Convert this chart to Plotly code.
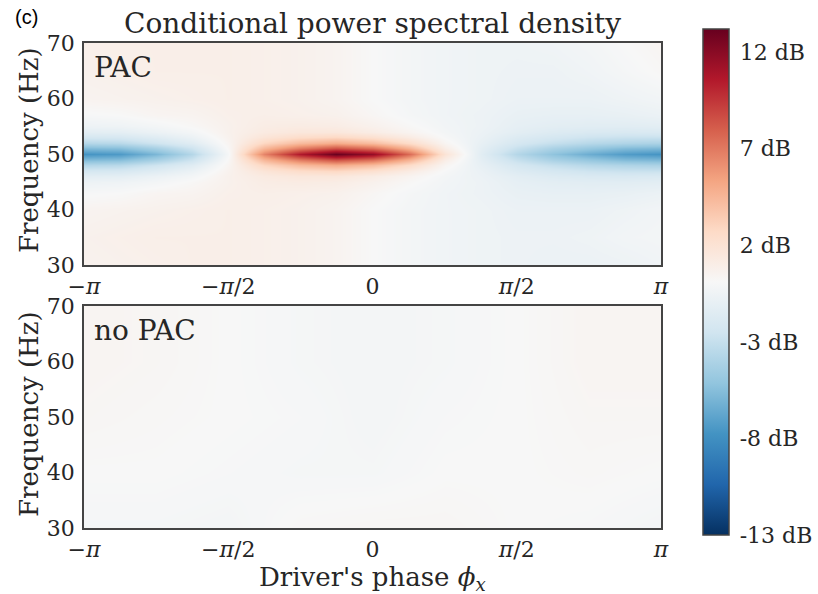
import plotly.graph_objects as go

# ---------------- data ----------------
# Top panel (PAC): driver phase columns (units of pi) and frequency rows (Hz)
pac_phase_pi = [-1, -0.875, -0.75, -0.625, -0.5, -0.375, -0.25, -0.125, 0,
                0.125, 0.25, 0.375, 0.5, 0.625, 0.75, 0.875, 1]
pac_freq = [30, 35, 40, 43, 45, 46, 47, 48, 49, 50, 51, 52, 53, 54, 55, 57, 60, 65, 70]
# conditional PSD in dB, rows follow pac_freq, columns follow pac_phase_pi
pac_db = [
    [0.5, 0.6, 0.7, 0.8, 0.8, 0.7, 0.6, 0.4, 0.0, -0.3, -0.5, -0.6, -0.7, -0.8, -0.8, -0.7, -0.5],    # 30
    [0.6, 0.7, 0.8, 0.8, 0.8, 0.7, 0.6, 0.4, 0.0, -0.3, -0.5, -0.6, -0.7, -0.7, -0.6, -0.4, -0.3],    # 35
    [0.4, 0.5, 0.6, 0.7, 0.8, 0.7, 0.6, 0.4, 0.0, -0.3, -0.5, -0.6, -0.8, -0.8, -0.8, -0.6, -0.4],    # 40
    [-0.1, 0.0, 0.3, 0.4, 0.7, 0.8, 0.7, 0.6, 0.2, -0.2, -0.5, -0.7, -1.0, -1.1, -1.1, -1.0, -0.8],   # 43
    [-0.7, -0.6, -0.3, 0.1, 0.6, 1.0, 1.1, 1.0, 0.6, 0.1, -0.4, -0.7, -1.2, -1.4, -1.5, -1.5, -1.4],  # 45
    [-1.4, -1.3, -0.8, -0.3, 0.6, 1.2, 1.5, 1.5, 1.0, 0.4, -0.3, -0.8, -1.4, -1.8, -2.0, -2.1, -2.0], # 46
    [-2.3, -2.2, -1.6, -0.8, 0.5, 1.7, 2.4, 2.7, 2.1, 1.1, -0.1, -0.9, -1.8, -2.3, -2.7, -2.9, -2.9], # 47
    [-3.8, -3.6, -2.7, -1.6, 0.3, 2.8, 4.2, 4.9, 4.1, 2.5, 0.3, -1.1, -2.3, -3.1, -3.7, -4.0, -4.2],  # 48
    [-5.7, -5.5, -4.3, -2.7, 0.1, 4.3, 6.7, 8.2, 7.1, 4.5, 0.9, -1.3, -3.0, -4.2, -5.0, -5.7, -5.9],  # 49
    [-7.8, -7.5, -6.0, -3.8, -0.2, 6.5, 10.5, 13.0, 11.5, 7.5, 1.8, -1.5, -3.8, -5.3, -6.5, -7.4, -7.8], # 50
    [-5.7, -5.5, -4.3, -2.7, 0.1, 4.3, 6.7, 8.2, 7.1, 4.5, 0.9, -1.3, -3.0, -4.2, -5.0, -5.7, -5.9],  # 51
    [-3.8, -3.6, -2.7, -1.6, 0.3, 2.8, 4.2, 4.9, 4.1, 2.5, 0.3, -1.1, -2.3, -3.1, -3.7, -4.0, -4.2],  # 52
    [-2.3, -2.2, -1.6, -0.8, 0.5, 1.7, 2.4, 2.7, 2.1, 1.1, -0.1, -0.9, -1.8, -2.3, -2.7, -2.9, -2.9], # 53
    [-1.4, -1.3, -0.8, -0.3, 0.6, 1.2, 1.5, 1.5, 1.0, 0.4, -0.3, -0.8, -1.4, -1.8, -2.0, -2.1, -2.0], # 54
    [-0.7, -0.6, -0.3, 0.1, 0.6, 1.0, 1.1, 1.0, 0.6, 0.1, -0.4, -0.7, -1.2, -1.4, -1.5, -1.5, -1.4],  # 55
    [-0.1, 0.0, 0.3, 0.4, 0.7, 0.8, 0.7, 0.6, 0.2, -0.2, -0.5, -0.7, -1.0, -1.1, -1.1, -1.0, -0.8],   # 57
    [0.4, 0.5, 0.6, 0.7, 0.8, 0.7, 0.6, 0.4, 0.0, -0.3, -0.5, -0.6, -0.8, -0.8, -0.8, -0.6, -0.4],    # 60
    [0.6, 0.7, 0.8, 0.8, 0.8, 0.7, 0.6, 0.4, 0.0, -0.3, -0.5, -0.6, -0.7, -0.7, -0.5, -0.2, 0.1],     # 65
    [0.7, 0.8, 0.8, 0.8, 0.8, 0.7, 0.6, 0.4, 0.0, -0.3, -0.5, -0.6, -0.6, -0.5, -0.3, 0.0, 0.3],      # 70
]

# Bottom panel (no PAC)
nopac_phase_pi = [-1, -0.75, -0.5, -0.25, 0, 0.25, 0.5, 0.75, 1]
nopac_freq = [30, 40, 50, 60, 70]
nopac_db = [
    [-0.2, -0.2, -0.3, 0.1, 0.2, 0.2, 0.0, -0.1, -0.3],   # 30
    [0.0, 0.0, -0.1, -0.2, -0.2, 0.0, 0.0, 0.1, 0.0],     # 40
    [0.2, 0.1, 0.0, -0.1, -0.3, -0.1, 0.0, 0.2, 0.2],     # 50
    [0.3, 0.2, 0.0, -0.2, -0.3, -0.2, 0.0, 0.3, 0.3],     # 60
    [0.3, 0.2, 0.0, -0.2, -0.3, -0.2, 0.0, 0.3, 0.3],     # 70
]

phase_ticks_pi = [-1, -0.5, 0, 0.5, 1]
phase_tick_labels = ["−<i>π</i>", "−<i>π</i>/2", "0", "<i>π</i>/2", "<i>π</i>"]
freq_ticks = [30, 40, 50, 60, 70]
cbar_min, cbar_max = -13.1, 13.1
cbar_ticks = [-13.1, -8.1, -3.1, 1.9, 6.9, 11.9]
cbar_tick_labels = ["-13 dB", "-8 dB", "-3 dB", "2 dB", "7 dB", "12 dB"]

# ---------------- figure ----------------
PI = 3.141592653589793
W, H = 818, 594
L, R, T, B = 84, 157, 29, 59
PW, PH = W - L - R, H - T - B

def px_x(px):
    return (px - L) / PW

def px_y(py):
    return (H - B - py) / PH

rdbu_r = [
    [0.0, "#053061"], [0.1, "#2166ac"], [0.2, "#4393c3"], [0.3, "#92c5de"],
    [0.4, "#d1e5f0"], [0.5, "#f7f7f7"], [0.6, "#fddbc7"], [0.7, "#f4a582"],
    [0.8, "#d6604d"], [0.9, "#b2182b"], [1.0, "#67001f"],
]

SERIF = "DejaVu Serif"
TXT = "#262626"

fig = go.Figure()
fig.add_trace(go.Heatmap(
    x=[p * PI for p in pac_phase_pi], y=pac_freq, z=pac_db,
    coloraxis="coloraxis", zsmooth="best", xaxis="x", yaxis="y",
    hoverinfo="skip"))
fig.add_trace(go.Heatmap(
    x=[p * PI for p in nopac_phase_pi], y=nopac_freq, z=nopac_db,
    coloraxis="coloraxis", zsmooth="best", xaxis="x2", yaxis="y2",
    hoverinfo="skip"))

axis_common = dict(
    showline=True, mirror=True, linecolor="#444444", linewidth=1.5,
    showgrid=False, zeroline=False, ticks="outside",
    tickcolor="rgba(0,0,0,0)", tickfont=dict(family=SERIF, size=22, color=TXT),
)
xaxis_common = dict(axis_common, range=[-PI, PI], ticklen=1,
                    tickvals=[p * PI for p in phase_ticks_pi],
                    ticktext=phase_tick_labels)
yaxis_common = dict(axis_common, range=[30, 70], ticklen=3, tickvals=freq_ticks,
                    ticktext=[str(v) for v in freq_ticks])

top_dom = [px_y(265), px_y(43)]
bot_dom = [px_y(528), px_y(306)]

fig.update_layout(
    width=W, height=H,
    margin=dict(l=L, r=R, t=T, b=B, autoexpand=False),
    paper_bgcolor="white", plot_bgcolor="white",
    showlegend=False,
    xaxis=dict(xaxis_common, domain=[0, 1], anchor="y"),
    yaxis=dict(yaxis_common, domain=top_dom, anchor="x"),
    xaxis2=dict(xaxis_common, domain=[0, 1], anchor="y2"),
    yaxis2=dict(yaxis_common, domain=bot_dom, anchor="x2"),
    coloraxis=dict(
        colorscale=rdbu_r, cmin=cbar_min, cmax=cbar_max,
        colorbar=dict(
            x=px_x(703), xanchor="left", y=0.5, yanchor="middle",
            len=1, lenmode="fraction", thickness=26, thicknessmode="pixels",
            xpad=0, ypad=0, outlinecolor="#444444", outlinewidth=1.5,
            tickvals=cbar_ticks, ticktext=cbar_tick_labels,
            ticks="outside", ticklen=6, tickcolor="rgba(0,0,0,0)",
            tickfont=dict(family=SERIF, size=22, color=TXT),
        ),
    ),
)

ann = [
    dict(text="Conditional power spectral density", x=px_x(372), y=px_y(23),
         font=dict(family=SERIF, size=28, color=TXT)),
    dict(text="(c)", x=px_x(26), y=px_y(17),
         font=dict(family="Liberation Sans", size=20, color="#000000")),
    dict(text="PAC", x=px_x(92), y=px_y(67), xanchor="left",
         font=dict(family=SERIF, size=28, color=TXT)),
    dict(text="no PAC", x=px_x(92), y=px_y(330), xanchor="left",
         font=dict(family=SERIF, size=28, color=TXT)),
    dict(text="Frequency (Hz)", x=px_x(29), y=px_y(150), textangle=-90,
         font=dict(family=SERIF, size=26, color=TXT)),
    dict(text="Frequency (Hz)", x=px_x(29), y=px_y(414), textangle=-90,
         font=dict(family=SERIF, size=26, color=TXT)),
    dict(text="Driver's phase <i>ϕ</i><sub><i>x</i></sub>", x=px_x(372), y=px_y(578),
         font=dict(family=SERIF, size=26, color=TXT)),
]
for a in ann:
    a.setdefault("xanchor", "center")
    fig.add_annotation(xref="paper", yref="paper", showarrow=False,
                       yanchor="middle", **a)

fig.write_html("out.html")
